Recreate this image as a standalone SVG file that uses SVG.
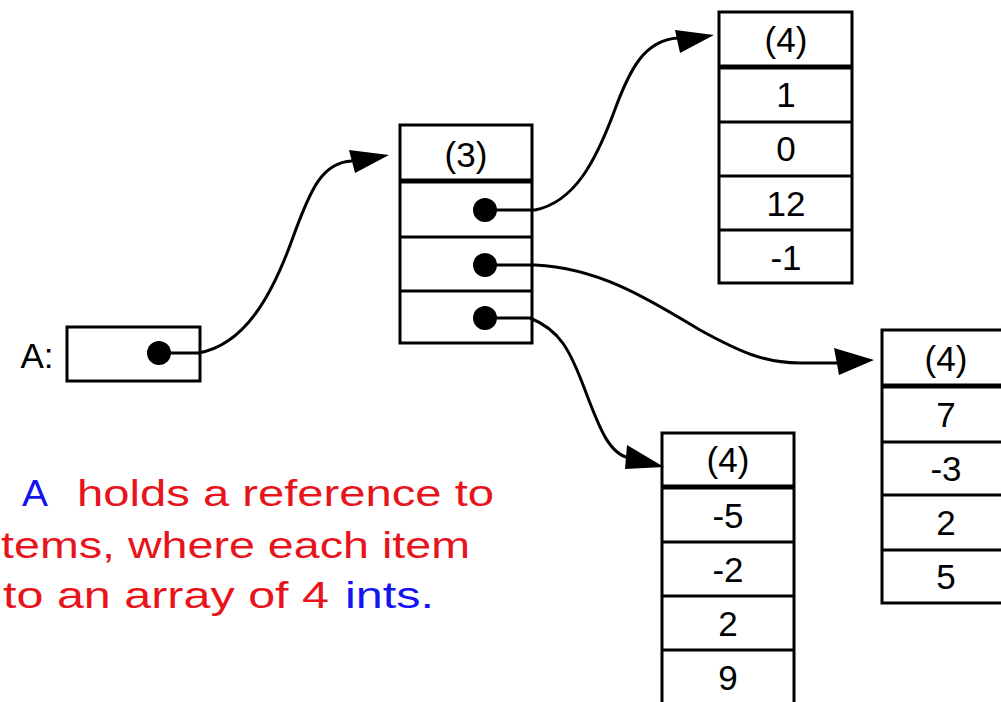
<svg xmlns="http://www.w3.org/2000/svg" width="1001" height="702" viewBox="0 0 1001 702">
<style>
.box{fill:#fff;stroke:#000;stroke-width:3}
.div{stroke:#000;stroke-width:3}
.hdr{stroke:#000;stroke-width:5}
.dot{fill:#000}
.t{font-family:"Liberation Sans",Arial,sans-serif;font-size:35px;fill:#000;text-anchor:middle}
.cap{font-family:"Liberation Sans",Arial,sans-serif;font-size:37px}
.red{fill:#e8141c}
.blue{fill:#1414f0}
.con{fill:none;stroke:#000;stroke-width:3}
.ah{fill:#000}
</style>
<rect width="1001" height="702" fill="#fff"/>
<g id="varA">
<text class="t" x="37" y="368">A:</text>
<rect class="box" x="67" y="327" width="133" height="54"/>
<circle class="dot" cx="159" cy="353" r="12"/>
</g>
<g id="outer">
<rect class="box" x="400" y="125" width="132" height="218"/>
<line class="hdr" x1="400" y1="181" x2="532" y2="181"/>
<line class="div" x1="400" y1="237" x2="532" y2="237"/>
<line class="div" x1="400" y1="291" x2="532" y2="291"/>
<text class="t" x="466" y="167">(3)</text>
<circle class="dot" cx="485" cy="210" r="12"/>
<circle class="dot" cx="485" cy="265" r="12"/>
<circle class="dot" cx="485" cy="318" r="12"/>
</g>
<g id="arr1">
<rect class="box" x="719" y="12" width="133" height="271"/>
<line class="hdr" x1="719" y1="67" x2="852" y2="67"/>
<line class="div" x1="719" y1="122" x2="852" y2="122"/>
<line class="div" x1="719" y1="176" x2="852" y2="176"/>
<line class="div" x1="719" y1="230" x2="852" y2="230"/>
<text class="t" x="786" y="52">(4)</text>
<text class="t" x="786" y="107">1</text>
<text class="t" x="786" y="161">0</text>
<text class="t" x="786" y="216">12</text>
<text class="t" x="786" y="270">-1</text>
</g>
<g id="arr2">
<rect class="box" x="882" y="330" width="135" height="273"/>
<line class="hdr" x1="882" y1="386" x2="1017" y2="386"/>
<line class="div" x1="882" y1="442" x2="1017" y2="442"/>
<line class="div" x1="882" y1="495" x2="1017" y2="495"/>
<line class="div" x1="882" y1="550" x2="1017" y2="550"/>
<text class="t" x="946" y="371">(4)</text>
<text class="t" x="946" y="427">7</text>
<text class="t" x="946" y="481">-3</text>
<text class="t" x="946" y="535">2</text>
<text class="t" x="946" y="589">5</text>
</g>
<g id="arr3">
<rect class="box" x="662" y="433" width="132" height="275"/>
<line class="hdr" x1="662" y1="487" x2="794" y2="487"/>
<line class="div" x1="662" y1="542" x2="794" y2="542"/>
<line class="div" x1="662" y1="596" x2="794" y2="596"/>
<line class="div" x1="662" y1="650" x2="794" y2="650"/>
<text class="t" x="728" y="472">(4)</text>
<text class="t" x="728" y="528">-5</text>
<text class="t" x="728" y="582">-2</text>
<text class="t" x="728" y="636">2</text>
<text class="t" x="728" y="690">9</text>
</g>
<g id="connectors">
<path class="con" d="M159,353 H198 C245,345 272,295 292,240 C310,190 322,162 352,161"/>
<polygon class="ah" points="349,150 389,155 355,173"/>
<path class="con" d="M485,210 H535 C575,202 596,160 614,112 C630,68 645,40 678,38"/>
<polygon class="ah" points="675,30 714,35 680,53"/>
<path class="con" d="M485,265 H535 C600,268 650,300 700,330 C740,352 765,363 800,363 L838,363"/>
<polygon class="ah" points="834,348 874,360 839,375"/>
<path class="con" d="M485,318 H530 C560,330 570,350 585,390 C600,430 610,455 630,458"/>
<polygon class="ah" points="627,445 664,467 625,469"/>
</g>
<g id="caption" class="cap">
<text class="blue" x="22" y="506" textLength="26" lengthAdjust="spacingAndGlyphs">A</text>
<text class="red" x="77" y="506" textLength="417" lengthAdjust="spacingAndGlyphs">holds a reference to</text>
<text class="red" x="1" y="558" textLength="469" lengthAdjust="spacingAndGlyphs">tems, where each item</text>
<text class="red" x="3" y="608" textLength="326" lengthAdjust="spacingAndGlyphs">to an array of 4</text>
<text class="blue" x="345" y="608" textLength="89" lengthAdjust="spacingAndGlyphs">ints.</text>
</g>
</svg>
